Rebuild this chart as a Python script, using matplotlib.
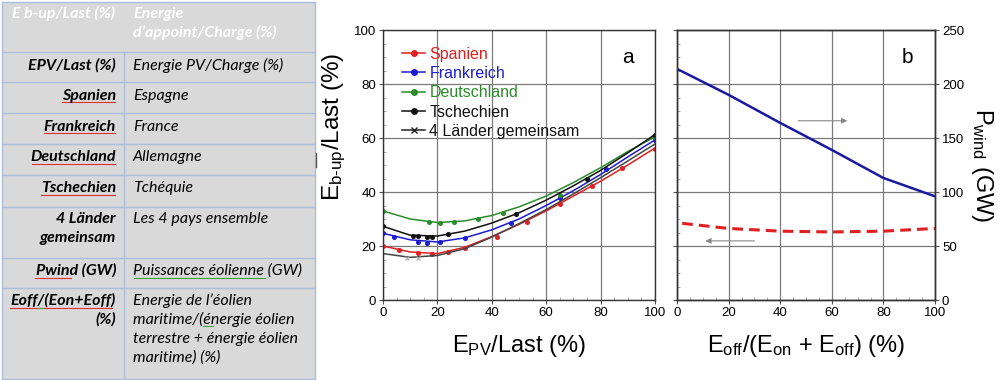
import numpy as np
import matplotlib
matplotlib.use("Agg")
import matplotlib.pyplot as plt
from matplotlib.patches import Rectangle

plt.rcParams['font.family'] = ['Liberation Sans', 'DejaVu Sans']
plt.rcParams['mathtext.fontset'] = 'custom'
plt.rcParams['mathtext.rm'] = 'Liberation Sans'
plt.rcParams['mathtext.it'] = 'Liberation Sans'

# ---- panel a : E_b-up/Last vs E_PV/Last ----
x_fit = [0, 10, 20, 30, 40, 50, 60, 70, 80, 90, 100]
spanien_fit = [20, 17.8, 17.2, 19.5, 23.5, 28, 33, 38.5, 44, 50, 56.3]
frankreich_fit = [24.7, 22.3, 21.5, 23, 26, 30, 35, 40.5, 46.5, 53, 59.3]
deutschland_fit = [33, 30, 28.7, 29.3, 31.3, 34.5, 38.5, 43.5, 49, 55, 60.5]
tschechien_fit = [27.3, 24, 23.7, 25.5, 28.5, 32.3, 37, 42.3, 48, 54.5, 61.3]
gemeinsam_fit = [17.2, 15.8, 16.5, 19, 23.3, 28.3, 33.5, 39.3, 45.3, 51.5, 57.8]

spanien_x = [0, 6, 13, 18, 24, 30, 42, 53, 65, 77, 88, 100]
spanien_y = [20, 18.5, 17.5, 17.0, 17.7, 19.3, 23.3, 28.8, 35.5, 42.3, 48.8, 56]
frankreich_x = [0, 4, 13, 16, 21, 30, 47, 65, 82, 100]
frankreich_y = [24.7, 23.3, 21.5, 21.3, 21.5, 23, 28.7, 37.6, 48.4, 59.3]
deutschland_x = [0, 17, 21, 26, 35, 44, 65, 100]
deutschland_y = [33, 28.8, 28.6, 28.8, 30.1, 32.3, 38.8, 60.5]
tschechien_x = [0, 11, 13, 16, 18, 24, 49, 75, 100]
tschechien_y = [27.3, 23.8, 23.6, 23.5, 23.5, 24.5, 31.8, 44.8, 61.3]
gemeinsam_x = [9, 13]
gemeinsam_y = [15.5, 15.5]

# ---- panel b ----
off_share = [0, 20, 40, 60, 80, 100]
p_wind = [214, 190, 164, 139, 113, 96]
off_share_b = [2, 20, 40, 60, 80, 100]
e_backup = [28.4, 26.5, 25.5, 25.2, 25.5, 26.5]

# ---- table ----
tab_head = ["E b-up/Last (%)", "Energie\nd\u2019appoint/Charge (%)"]
tab_de = ["EPV/Last (%)", "Spanien", "Frankreich", "Deutschland", "Tschechien",
          "4 L\u00e4nder\ngemeinsam", "Pwind (GW)", "Eoff/(Eon+Eoff)\n(%)"]
tab_fr = ["Energie PV/Charge (%)", "Espagne", "France", "Allemagne", "Tch\u00e9quie",
          "Les 4 pays ensemble", "Puissances \u00e9olienne (GW)",
          "Energie de l\u2019\u00e9olien\nmaritime/(\u00e9nergie \u00e9olien\nterrestre + \u00e9nergie \u00e9olien\nmaritime) (%)"]

fig = plt.figure(figsize=(10, 3.8), dpi=100)

# table drawn in pixel coords
tx = fig.add_axes([0, 0, 0.318, 1])
tx.set_xlim(0, 318)
tx.set_ylim(380, 0)
tx.axis('off')
row_edges = [2, 52, 82, 113, 144, 175, 207, 258, 288, 379]
border = '#a9bfdc'
tx.add_patch(Rectangle((2, 2), 313, 377, facecolor='#d9d9d9', edgecolor='none'))
for yy in row_edges:
    tx.plot([2, 315], [yy, yy], color=border, lw=1)
tx.plot([2, 2], [2, 379], color=border, lw=1)
tx.plot([315, 315], [2, 379], color=border, lw=1)
tx.plot([124, 124], [52, 379], color=border, lw=1)
tx.plot([316, 316], [153, 167], color='#555555', lw=1)

tfont = ['Lato', 'DejaVu Sans']
fs = 11.5
line_gap = 19
tx.text(12, 18, tab_head[0], color='white', fontsize=fs, style='italic',
        weight='bold', family=tfont, va='baseline', ha='left')
for k, line in enumerate(tab_head[1].split('\n')):
    tx.text(133, 18 + k * line_gap, line, color='white', fontsize=fs, style='italic',
            weight='bold', family=tfont, va='baseline', ha='left')
baselines = [70, 100, 131, 161, 192, 223, 275, 305]
for i in range(len(tab_de)):
    for k, line in enumerate(tab_de[i].split('\n')):
        tx.text(116, baselines[i] + k * line_gap, line, fontsize=fs, style='italic',
                weight='bold', family=tfont, va='baseline', ha='right')
    for k, line in enumerate(tab_fr[i].split('\n')):
        tx.text(133, baselines[i] + k * line_gap, line, fontsize=fs, style='italic',
                family=tfont, va='baseline', ha='left')
# spell-check underlines
for x0, x1, yy in [(62, 115, 102), (44, 115, 133), (32, 115, 163.5), (41, 115, 194.5),
                   (35, 71, 277.5), (10, 112, 307.5)]:
    tx.plot([x0, x1], [yy, yy], color='#e03030', lw=0.8)
for x0, x1, yy in [(134, 265, 277.5), (38, 43, 307.5), (203, 213, 325.5)]:
    tx.plot([x0, x1], [yy, yy], color='#40a040', lw=0.8)

# panel a
ax = fig.add_axes([0.383, 0.2105, 0.272, 0.7105])
series = [
    ("Spanien", spanien_fit, spanien_x, spanien_y, '#e02020', 'o'),
    ("Frankreich", frankreich_fit, frankreich_x, frankreich_y, '#1c1cd0', 'o'),
    ("Deutschland", deutschland_fit, deutschland_x, deutschland_y, '#2a8c2a', 'o'),
    ("Tschechien", tschechien_fit, tschechien_x, tschechien_y, '#111111', 'o'),
]
handles = []
for name, fit, mx, my, c, m in series:
    ax.plot(x_fit, fit, color=c, lw=1.1)
    ax.plot(mx, my, ls='none', marker=m, ms=2.6, color=c)
    h, = ax.plot([], [], color=c, lw=1.1, marker=m, ms=4)
    handles.append(h)
ax.plot(x_fit, gemeinsam_fit, color='#444444', lw=1.1)
ax.plot(gemeinsam_x, gemeinsam_y, ls='none', marker='x', ms=3, color='#aaaaaa', mew=0.8)
h, = ax.plot([], [], color='#222222', lw=1.1, marker='x', ms=5)
handles.append(h)
labels = [s[0] for s in series] + ["4 L\u00e4nder gemeinsam"]
leg = ax.legend(handles, labels, loc='upper left', frameon=False, fontsize=11.5,
                labelspacing=0.27, handlelength=1.4, handletextpad=0.3,
                borderaxespad=0.3, bbox_to_anchor=(0.03, 0.98))
for t, c in zip(leg.get_texts(), ['#e02020', '#1c1cd0', '#2a8c2a', '#111111', '#111111']):
    t.set_color(c)
ax.text(90, 90, 'a', fontsize=15, ha='center', va='center')

ax.set_xlim(0, 100)
ax.set_ylim(0, 100)
ax.set_xticks(np.arange(0, 101, 20))
ax.set_yticks(np.arange(0, 101, 20))
ax.set_xlabel(r'E$_{\mathrm{PV}}$/Last (%)', fontsize=17, labelpad=10)
ax.set_ylabel(r'E$_{\mathrm{b\text{-}up}}$/Last (%)', fontsize=17.5)
ax.yaxis.set_label_coords(-0.13, 0.64)

# panel b
bx = fig.add_axes([0.677, 0.2105, 0.258, 0.7105])
bx.set_xlim(0, 100)
bx.set_ylim(0, 100)
bx.set_xticks(np.arange(0, 101, 20))
bx.set_yticks(np.arange(0, 101, 20))
bx.tick_params(axis='y', labelleft=False)
bx.plot(off_share_b, e_backup, color='#e02020', lw=2.2, ls=(0, (3.5, 2)))
br = bx.twinx()
br.set_ylim(0, 250)
br.set_yticks(np.arange(0, 251, 50))
br.plot(off_share, p_wind, color='#1a1aa0', lw=1.8)
br.set_ylabel(r'P$_{\mathrm{wind}}$ (GW)', fontsize=17, rotation=-90, labelpad=22)
bx.set_xlabel(r'E$_{\mathrm{off}}$/(E$_{\mathrm{on}}$ + E$_{\mathrm{off}}$) (%)', fontsize=17, labelpad=10)
bx.text(89.5, 90, 'b', fontsize=15, ha='center', va='center')
bx.annotate('', xy=(66, 66.4), xytext=(47, 66.4),
            arrowprops=dict(arrowstyle='-|>', color='#888888', lw=0.8,
                            mutation_scale=8, shrinkA=0, shrinkB=0))
bx.annotate('', xy=(11, 21.9), xytext=(30, 21.9),
            arrowprops=dict(arrowstyle='-|>', color='#888888', lw=0.8,
                            mutation_scale=8, shrinkA=0, shrinkB=0))

for a in [ax, bx, br]:
    a.tick_params(labelsize=9.5, direction='out', length=3, color='#555555', pad=2)
    for s in a.spines.values():
        s.set_color('#333333')
        s.set_linewidth(1)
for a in [ax, bx]:
    a.grid(True, color='#7a7a7a', lw=0.9)
    a.set_axisbelow(True)
    a.set_xticks(np.arange(0, 101, 5), minor=True)
    a.set_yticks(np.arange(0, 101, 5), minor=True)
    a.tick_params(which='minor', direction='in', length=2, color='#999999')

fig.savefig('out.png', dpi=100)
